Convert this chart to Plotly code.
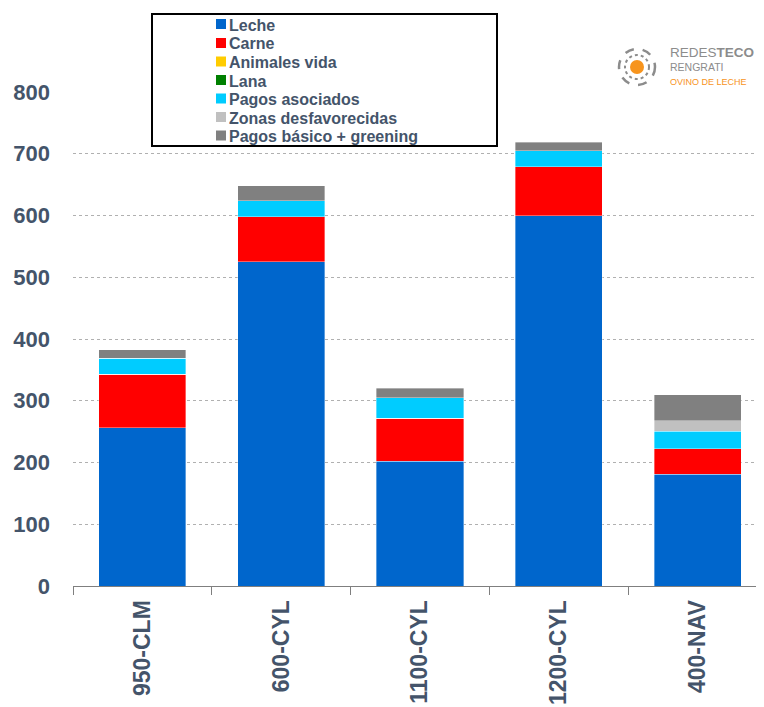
import plotly.graph_objects as go

categories = ["950-CLM", "600-CYL", "1100-CYL", "1200-CYL", "400-NAV"]
leche = [256, 525, 202, 600, 181]
carne = [87, 73, 70, 79, 41]
animales_vida = [0, 0, 0, 0, 0]
lana = [0, 0, 0, 0, 0]
pagos_asociados = [26, 26, 33, 26, 29]
zonas_desfavorecidas = [0, 0, 0, 0, 17]
pagos_basico = [14, 24, 15, 14, 42]
y_ticks = [0, 100, 200, 300, 400, 500, 600, 700, 800]

series_names = ["Leche", "Carne", "Animales vida", "Lana", "Pagos asociados",
                "Zonas desfavorecidas", "Pagos básico + greening"]
series_values = [leche, carne, animales_vida, lana, pagos_asociados,
                 zonas_desfavorecidas, pagos_basico]
series_colors = ["#0066CC", "#FF0000", "#FFCC00", "#008000", "#00CCFF",
                 "#C0C0C0", "#808080"]

W, H = 764, 707
OFF = 8  # page offset of the figure in the browser
ML, MR, MT, MB = 65, 5, 84, 129
PW, PH = W - ML - MR, H - MT - MB


def px(xs):
    return (xs - OFF - ML) / PW


def py(ys):
    return (H - MB - (ys - OFF)) / PH


FONT = "Arial, 'Liberation Sans', sans-serif"
TXT = "#44546A"

fig = go.Figure()
for name, vals, col in zip(series_names, series_values, series_colors):
    fig.add_trace(go.Bar(
        x=categories, y=vals, name=name, showlegend=False,
        marker=dict(color=col, line=dict(width=0.6, color="rgba(255,255,255,0.6)")),
    ))

shapes = [
    dict(type="rect", xref="paper", yref="paper",
         x0=px(152), x1=px(497), y0=py(146), y1=py(14),
         line=dict(color="black", width=2), fillcolor="white", layer="below"),
    dict(type="circle", xref="paper", yref="paper",
         x0=px(619), x1=px(655), y0=py(85), y1=py(49),
         line=dict(color="#8C8C8C", width=2.5, dash="dash")),
    dict(type="circle", xref="paper", yref="paper",
         x0=px(625), x1=px(649), y0=py(79), y1=py(55),
         line=dict(color="#8C8C8C", width=2, dash="dot")),
    dict(type="circle", xref="paper", yref="paper",
         x0=px(630), x1=px(644), y0=py(74), y1=py(60),
         line=dict(color="#F7941D", width=0), fillcolor="#F7941D"),
]

annotations = []
row_y = [24, 43, 61.5, 80, 98.5, 117, 135.5]
for name, col, yy in zip(series_names, series_colors, row_y):
    shapes.append(dict(type="rect", xref="paper", yref="paper",
                       x0=px(216), x1=px(226), y0=py(yy + 5), y1=py(yy - 5),
                       line=dict(width=0), fillcolor=col))
    annotations.append(dict(xref="paper", yref="paper", x=px(227), y=py(yy + 1),
                            xanchor="left", yanchor="middle", text=name, showarrow=False,
                            font=dict(family=FONT, size=16, color=TXT, weight="bold")))

annotations += [
    dict(xref="paper", yref="paper", x=px(668), y=py(52.5), xanchor="left", yanchor="middle",
         text="REDES<b>TECO</b>", showarrow=False,
         font=dict(family=FONT, size=13.5, color="#8C8C8C")),
    dict(xref="paper", yref="paper", x=px(668), y=py(67), xanchor="left", yanchor="middle",
         text="RENGRATI", showarrow=False,
         font=dict(family=FONT, size=10.5, color="#8C8C8C")),
    dict(xref="paper", yref="paper", x=px(668), y=py(82), xanchor="left", yanchor="middle",
         text="OVINO DE LECHE", showarrow=False,
         font=dict(family=FONT, size=9, color="#F7941D")),
]

fig.update_layout(
    width=W, height=H,
    margin=dict(l=ML, r=MR, t=MT, b=MB, pad=0),
    barmode="stack", bargap=0.373,
    plot_bgcolor="white", paper_bgcolor="white",
    font=dict(family=FONT, color=TXT),
    showlegend=False,
    shapes=shapes,
    annotations=annotations,
    xaxis=dict(
        tickangle=-90, showgrid=False, showline=True, linecolor="#7F7F7F", linewidth=1,
        ticks="outside", ticklen=8, tickcolor="#7F7F7F", tickson="boundaries",
        tickfont=dict(family=FONT, size=23, color=TXT, weight="bold"),
        ticklabelstandoff=4,
    ),
    yaxis=dict(
        range=[0, 800], tickvals=y_ticks, showgrid=True, gridcolor="#B0B0B0",
        griddash="dot", gridwidth=1, zeroline=False, showline=False, ticks="",
        tickfont=dict(family=FONT, size=22, color=TXT, weight="bold"),
        ticklabelstandoff=22,
    ),
)

fig.write_html("out.html")
